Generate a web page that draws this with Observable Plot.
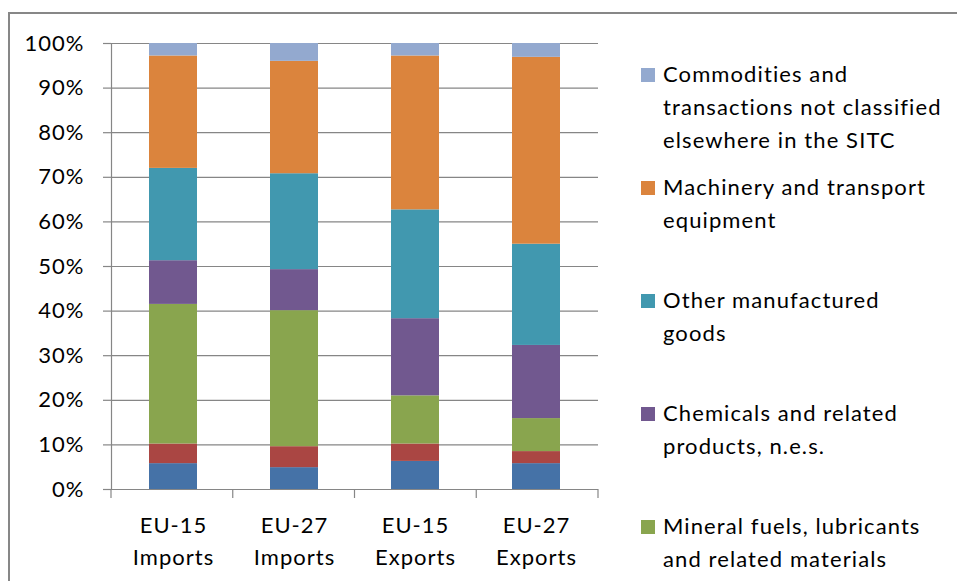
<!DOCTYPE html>
<html>
<head>
<meta charset="utf-8">
<script src="https://cdn.jsdelivr.net/npm/d3@7"></script>
<script src="https://cdn.jsdelivr.net/npm/@observablehq/plot@0.6"></script>
<style>
  body { margin: 0; background: #fff; font-family: Lato, "Open Sans", sans-serif; }
  #wrap { position: relative; width: 957px; height: 581px; overflow: hidden; }
  #frame { position: absolute; left: 8px; top: 12px; width: 1000px; height: 700px; border: 2px solid #878787; box-sizing: border-box; }
  #chart { position: absolute; left: 0; top: 0; }
  .item { position: absolute; left: 641px; font-size: 22px; line-height: 32.7px; letter-spacing: 1.1px; color: #000; white-space: pre; }
  .sw { position: absolute; left: 0; top: 10px; width: 14px; height: 14px; }
  .tx { margin-left: 22px; }
</style>
</head>
<body>
<div id="wrap">
  <div id="frame"></div>
  <div id="chart"></div>
  <div id="legend"></div>
</div>
<script>
// Categories (x axis)
const categories = ["EU-15\nImports", "EU-27\nImports", "EU-15\nExports", "EU-27\nExports"];

// Series, bottom to top of each stacked bar
const seriesNames = [
  "Food and drink",
  "Raw materials",
  "Mineral fuels, lubricants and related materials",
  "Chemicals and related products, n.e.s.",
  "Other manufactured goods",
  "Machinery and transport equipment",
  "Commodities and transactions not classified elsewhere in the SITC"
];
const seriesColors = ["#4572A7", "#AA4643", "#89A54E", "#71588F", "#4198AF", "#DB843D", "#93A9CF"];

// Shares (%) per category, in the order of `categories`
const foodDrink     = [5.8, 4.9, 6.3, 5.8];
const rawMaterials  = [4.4, 4.7, 3.9, 2.7];
const mineralFuels  = [31.3, 30.5, 10.8, 7.4];
const chemicals     = [9.8, 9.2, 17.3, 16.4];
const otherManuf    = [20.7, 21.5, 24.4, 22.7];
const machinery     = [25.2, 25.2, 34.5, 41.9];
const commodities   = [2.8, 4.0, 2.8, 3.1];

const yTicks = [0, 10, 20, 30, 40, 50, 60, 70, 80, 90, 100];

// Legend labels as shown (top entries visible in the window), with line breaks
const legendLabels = [
  "Commodities and\ntransactions not classified\nelsewhere in the SITC",
  "Machinery and transport\nequipment",
  "Other manufactured\ngoods",
  "Chemicals and related\nproducts, n.e.s.",
  "Mineral fuels, lubricants\nand related materials"
];
const legendSeries = [6, 5, 4, 3, 2];

const seriesValues = [foodDrink, rawMaterials, mineralFuels, chemicals, otherManuf, machinery, commodities];
const table = [];
seriesValues.forEach((vals, s) => {
  vals.forEach((v, c) => table.push({category: categories[c], series: seriesNames[s], value: v}));
});

const gridColor = "#868686";

const chart = Plot.plot({
  width: 957,
  height: 581,
  marginLeft: 111,
  marginRight: 359,
  marginTop: 43,
  marginBottom: 92,
  style: {fontFamily: "Lato, 'Open Sans', sans-serif", fontSize: "22px", letterSpacing: "0.6px", background: "transparent", color: "#000"},
  x: {domain: categories, paddingInner: 0.6, paddingOuter: 0.3, axis: null},
  y: {domain: [0, 100], axis: null},
  color: {domain: seriesNames, range: seriesColors},
  marks: [
    Plot.gridY(yTicks, {stroke: gridColor, strokeOpacity: 1, strokeWidth: 1.2}),
    Plot.axisY(yTicks, {label: null, tickSize: 8, tickPadding: 19, tickFormat: d => d + "%", stroke: gridColor, fill: "#000", fontSize: 22, strokeWidth: 1.2}),
    Plot.frame({anchor: "left", stroke: gridColor, strokeWidth: 1.2}),
    (index, scales, values, dims) => {
      const g = d3.create("svg:g");
      const n = categories.length;
      const x0 = dims.marginLeft, x1 = dims.width - dims.marginRight;
      const yb = scales.y(0);
      for (let k = 0; k <= n; k++) {
        const x = x0 + k * (x1 - x0) / n;
        g.append("line").attr("x1", x).attr("x2", x).attr("y1", yb).attr("y2", yb + 9)
          .attr("stroke", gridColor).attr("stroke-width", 1.2);
      }
      return g.node();
    },
    Plot.barY(table, {x: "category", y: "value", fill: "series"}),
    Plot.text(categories, {x: d => d, frameAnchor: "bottom", dy: 21, lineAnchor: "top", lineHeight: 1.45, fontSize: 22, fill: "#000"})
  ]
});
chart.querySelectorAll("text").forEach(t => t.style.letterSpacing = "1px");
document.getElementById("chart").appendChild(chart);

// Legend
const legend = document.getElementById("legend");
legendLabels.forEach((lab, i) => {
  const item = document.createElement("div");
  item.className = "item";
  item.style.top = (58.4 + i * 113) + "px";
  const sw = document.createElement("div");
  sw.className = "sw";
  sw.style.background = seriesColors[legendSeries[i]];
  const tx = document.createElement("div");
  tx.className = "tx";
  tx.textContent = lab;
  item.appendChild(sw);
  item.appendChild(tx);
  legend.appendChild(item);
});
</script>
</body>
</html>
